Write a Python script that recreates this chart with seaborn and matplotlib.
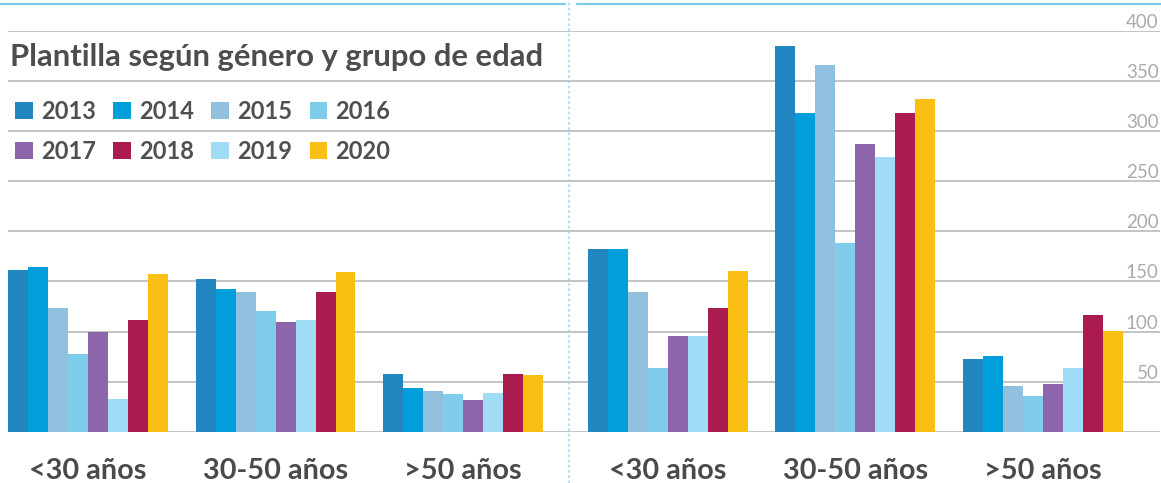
import pandas as pd
import seaborn as sns
import matplotlib.pyplot as plt
from matplotlib.lines import Line2D
from matplotlib.patches import Patch

# data
groups = ['<30 años', '30-50 años', '>50 años']
years = ['2013', '2014', '2015', '2016', '2017', '2018', '2019', '2020']
# order in which bars are drawn inside each group (2019 sits before 2018)
bar_order = ['2013', '2014', '2015', '2016', '2017', '2019', '2018', '2020']

left_values = {
    '2013': [161, 152, 58],
    '2014': [164, 142, 44],
    '2015': [124, 139, 41],
    '2016': [78, 121, 38],
    '2017': [100, 110, 32],
    '2018': [112, 139, 58],
    '2019': [33, 112, 39],
    '2020': [157, 159, 57],
}
right_values = {
    '2013': [182, 385, 73],
    '2014': [182, 318, 76],
    '2015': [139, 366, 46],
    '2016': [64, 188, 36],
    '2017': [96, 287, 48],
    '2018': [124, 318, 117],
    '2019': [96, 274, 64],
    '2020': [160, 332, 101],
}
colors = {
    '2013': '#2287c0',
    '2014': '#009edb',
    '2015': '#91c0de',
    '2016': '#80cdeb',
    '2017': '#8d65aa',
    '2018': '#aa1c4f',
    '2019': '#a0dcf6',
    '2020': '#f9c013',
}
yticks = [50, 100, 150, 200, 250, 300, 350, 400]

title = 'Plantilla según género y grupo de edad'

W, H = 1161, 483


def to_long(values):
    rows = []
    for y in years:
        for g, v in zip(groups, values[y]):
            rows.append({'grupo': g, 'año': y, 'valor': v})
    return pd.DataFrame(rows)


def style_ax(ax, xlim):
    ax.set_ylim(0, 400)
    ax.set_xlim(*xlim)
    ax.set_yticks([0] + yticks)
    ax.yaxis.grid(True, color='#b4b4b4', linewidth=1.1)
    ax.xaxis.grid(False)
    ax.set_axisbelow(True)
    for s in ax.spines.values():
        s.set_visible(False)
    ax.set_xlabel('')
    ax.set_ylabel('')
    ax.tick_params(axis='x', length=0, pad=18.5, labelsize=20.8, labelcolor='#4a4a4a')
    for lbl in ax.get_xticklabels():
        lbl.set_fontweight('bold')


def main():
    sns.set_theme(style='white')
    plt.rcParams['font.family'] = ['Lato', 'DejaVu Sans']

    fig = plt.figure(figsize=(W / 100, H / 100), dpi=100)
    ax_l = fig.add_axes([8 / W, 51 / H, 560 / W, 401.5 / H])
    ax_r = fig.add_axes([568 / W, 51 / H, 592 / W, 401.5 / H])

    for ax, vals in [(ax_l, left_values), (ax_r, right_values)]:
        sns.barplot(data=to_long(vals), x='grupo', y='valor', hue='año',
                    order=groups, hue_order=bar_order, palette=colors,
                    width=0.853, saturation=1, linewidth=0, legend=False, ax=ax)

    style_ax(ax_l, (-0.427, 2.56))
    style_ax(ax_r, (-0.533, 2.624))

    ax_l.tick_params(axis='y', left=False, labelleft=False)
    ax_r.yaxis.tick_right()
    ax_r.set_yticklabels([''] + [str(t) for t in yticks])
    ax_r.tick_params(axis='y', length=0, pad=-1, labelsize=13.5, labelcolor='#ababab')
    for lbl in ax_r.get_yticklabels():
        lbl.set_horizontalalignment('right')
        lbl.set_verticalalignment('bottom')

    # title
    fig.text(10 / W, 1 - 57 / H, title, fontsize=22.3, fontweight='bold',
             color='#4d4d4d', va='center', ha='left')

    # legend, filled row by row
    handles = [Patch(facecolor=colors[y], edgecolor='none', label=y) for y in years]
    order = [0, 4, 1, 5, 2, 6, 3, 7]
    leg = fig.legend([handles[i] for i in order], [years[i] for i in order],
                     ncol=4, loc='upper left', bbox_to_anchor=(15 / W, 1 - 100 / H),
                     frameon=False, fontsize=17, handlelength=0.76, handleheight=0.76,
                     handletextpad=0.34, columnspacing=0.73, labelspacing=0.7,
                     borderpad=0, borderaxespad=0)
    for t in leg.get_texts():
        t.set_color('#505050')
        t.set_fontweight('bold')

    # top rule and dotted divider
    fig.add_artist(Line2D([0, 565 / W], [1 - 4 / H] * 2, transform=fig.transFigure,
                          color='#7dcbe8', linewidth=1.6))
    fig.add_artist(Line2D([577 / W, 1], [1 - 4 / H] * 2, transform=fig.transFigure,
                          color='#7dcbe8', linewidth=1.6))
    fig.add_artist(Line2D([568.5 / W] * 2, [0, 1], transform=fig.transFigure,
                          color='#9fd3ef', linewidth=1.1, linestyle=(0, (1.6, 1.8))))

    plt.savefig('out.png', dpi=100)


if __name__ == '__main__':
    main()
